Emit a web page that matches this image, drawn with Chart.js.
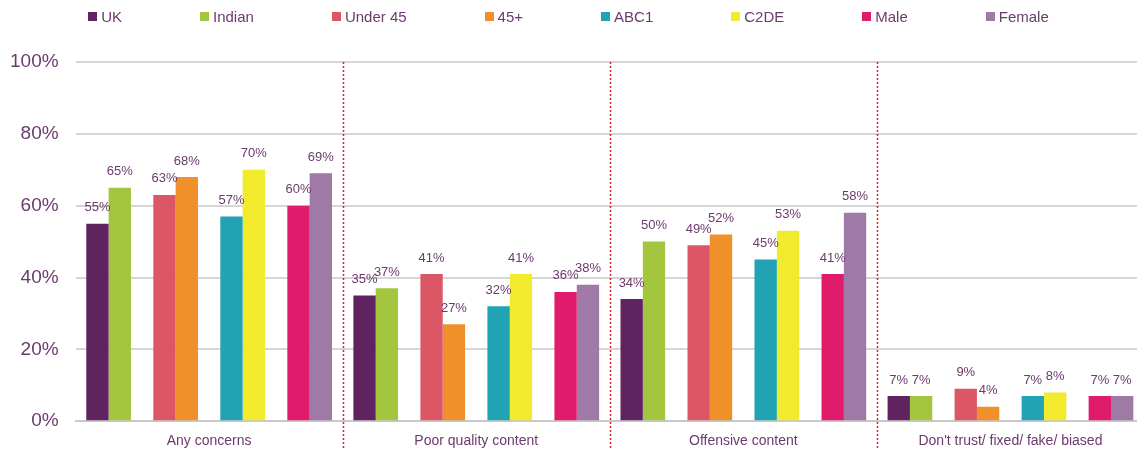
<!DOCTYPE html>
<html>
<head>
<meta charset="utf-8">
<script src="https://cdn.jsdelivr.net/npm/chart.js@4/dist/chart.umd.min.js"></script>
<style>
  html, body { margin: 0; padding: 0; background: #fff; overflow: hidden; }
  #wrap { position: relative; width: 1137px; height: 452px; overflow: hidden; }
  #chart { position: absolute; left: -15px; top: 0; }
  #legend { position: absolute; top: 8px; left: 0; width: 1137px; display: flex; justify-content: center; gap: 78px;
            font: 15px "Liberation Sans", Arial, sans-serif; color: #6b3a6e; z-index: 1; }
  #legend span.item { display: flex; align-items: center; white-space: nowrap; }
  #legend span.box { width: 9px; height: 9px; margin-right: 4px; display: inline-block; }
</style>
</head>
<body>
<div id="wrap">
  <div id="legend"></div>
  <canvas id="chart" width="1159" height="462"></canvas>
</div>
<script>
const categories = ["Any concerns", "Poor quality content", "Offensive content", "Don't trust/ fixed/ fake/ biased"];
const seriesNames = ["UK", "Indian", "Under 45", "45+", "ABC1", "C2DE", "Male", "Female"];
const seriesColors = ["#5f2360", "#a4c63f", "#dc5766", "#f0902a", "#22a3b3", "#f2ea2c", "#e01b6c", "#a07aa6"];
const uk      = [55, 35, 34, 7];
const indian  = [65, 37, 50, 7];
const under45 = [63, 41, 49, 9];
const over45  = [68, 27, 52, 4];
const abc1    = [57, 32, 45, 7];
const c2de    = [70, 41, 53, 8];
const male    = [60, 36, 41, 7];
const female  = [69, 38, 58, 7];
const yTicks  = [0, 20, 40, 60, 80, 100];

const seriesValues = [uk, indian, under45, over45, abc1, c2de, male, female];
const textColor = "#6b3a6e";

// pairs of bars with an empty slot between each pair
const datasets = [];
seriesValues.forEach((vals, i) => {
    if (i > 0 && i % 2 === 0) {
        datasets.push({ label: "", data: categories.map(() => null), spacer: true });
    }
    datasets.push({ label: seriesNames[i], data: vals, backgroundColor: seriesColors[i] });
});

// legend
const legend = document.getElementById('legend');
seriesNames.forEach((name, i) => {
    const it = document.createElement('span');
    it.className = 'item';
    it.innerHTML = '<span class="box" style="background:' + seriesColors[i] + '"></span>' + name;
    legend.appendChild(it);
});

const valueLabels = {
    id: 'valueLabels',
    afterDatasetsDraw(chart) {
        const ctx = chart.ctx;
        ctx.save();
        ctx.font = '13px "Liberation Sans", Arial, sans-serif';
        ctx.fillStyle = textColor;
        ctx.textAlign = 'center';
        ctx.textBaseline = 'middle';
        chart.data.datasets.forEach((ds, di) => {
            if (ds.spacer) return;
            chart.getDatasetMeta(di).data.forEach((bar, i) => {
                ctx.fillText(ds.data[i] + '%', bar.x, bar.y - 16);
            });
        });
        ctx.restore();
    }
};

const separators = {
    id: 'separators',
    afterDraw(chart) {
        const ctx = chart.ctx, x = chart.scales.x;
        const step = (x.right - x.left) / categories.length;
        ctx.save();
        ctx.strokeStyle = '#d9232e';
        ctx.lineWidth = 1.5;
        ctx.setLineDash([2, 2]);
        for (let i = 1; i < categories.length; i++) {
            const px = Math.round(x.left + step * i) + 0.5;
            ctx.beginPath();
            ctx.moveTo(px, chart.chartArea.top);
            ctx.lineTo(px, 448);
            ctx.stroke();
        }
        ctx.restore();
    }
};

new Chart(document.getElementById('chart'), {
    type: 'bar',
    data: { labels: categories, datasets: datasets },
    options: {
        responsive: false,
        animation: false,
        layout: { padding: { top: 62, left: 8, right: 0, bottom: 0 } },
        plugins: { legend: { display: false }, tooltip: { enabled: false } },
        datasets: { bar: { barPercentage: 1, categoryPercentage: 0.92 } },
        scales: {
            x: {
                grid: { display: false, drawTicks: false },
                border: { color: '#c8c8c8', width: 2 },
                ticks: { color: textColor, padding: 12, font: { size: 14, family: '"Liberation Sans", Arial, sans-serif' } }
            },
            y: {
                min: 0, max: 100,
                afterBuildTicks(axis) { axis.ticks = yTicks.map(v => ({ value: v })); },
                grid: { color: '#d6d6d6', lineWidth: 2, drawTicks: false },
                border: { display: false },
                ticks: {
                    color: textColor, padding: 17,
                    font: { size: 19, family: '"Liberation Sans", Arial, sans-serif' },
                    callback: v => v + '%'
                }
            }
        }
    },
    plugins: [valueLabels, separators]
});
</script>
</body>
</html>
